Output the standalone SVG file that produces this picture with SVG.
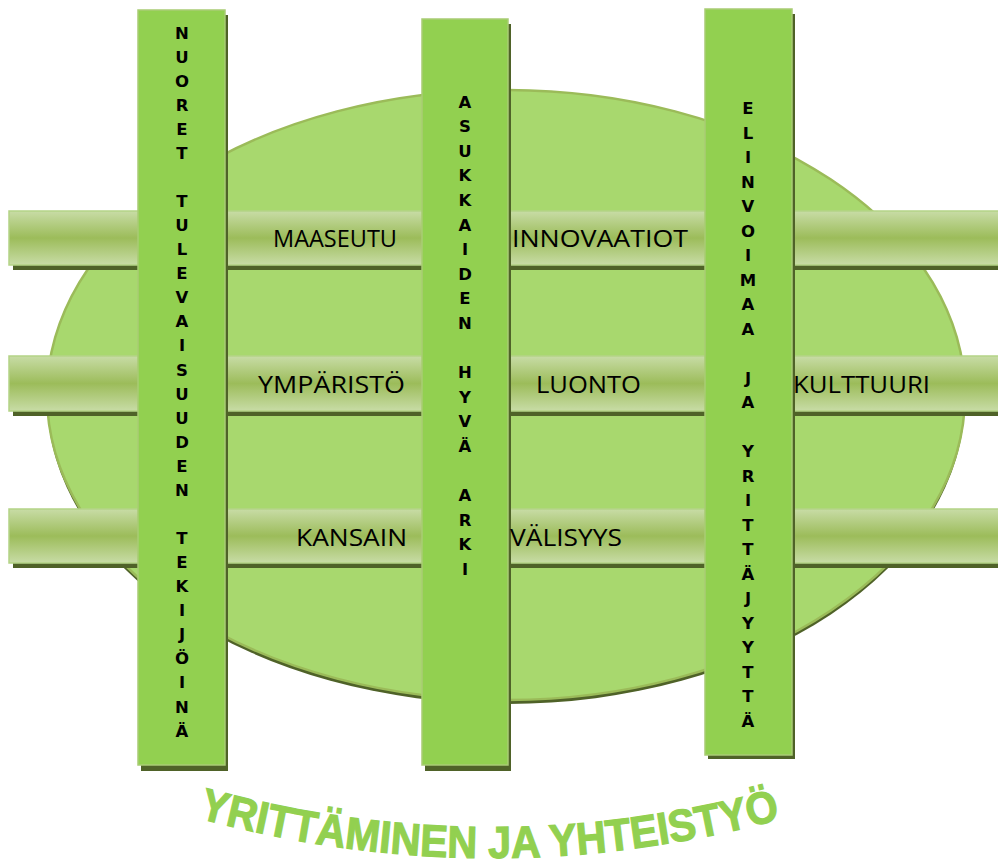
<svg xmlns="http://www.w3.org/2000/svg" width="998" height="867" viewBox="0 0 998 867">
<style>
.bar{fill:url(#barGrad);stroke:#b4d386;stroke-width:1.5}
.shadow{fill:#4f6228}
.col{fill:#92d050;stroke:#a9cc74;stroke-width:1.5}
.lbl{font-family:"Open Sans","Liberation Sans",sans-serif;font-size:24px;fill:#000}
.vert{font-family:"DejaVu Sans","Liberation Sans",sans-serif;font-weight:bold;font-size:16.5px;fill:#000;text-anchor:middle}
.arc{font-family:"Liberation Sans",Arial,sans-serif;font-weight:bold;font-size:45px;fill:#92d050;stroke:#92d050;stroke-width:1.2}
</style>
<defs>
<linearGradient id="barGrad" x1="0" y1="0" x2="0" y2="1">
<stop offset="0" stop-color="#c8dca6"/>
<stop offset="0.5" stop-color="#9cbc5a"/>
<stop offset="1" stop-color="#c8dca6"/>
</linearGradient>
<path id="arcPath" d="M198,818 Q491,898 785,818"/>
</defs>
<g id="background">
<ellipse cx="506" cy="399" rx="459" ry="305" fill="#4f6228"/>
<ellipse cx="506" cy="395" rx="459" ry="305" fill="#a8d86e" stroke="#9bbb59" stroke-width="2.5"/>
</g>
<g id="bars">
<g id="bar1">
<rect class="shadow" x="13" y="263" width="985" height="7"/>
<rect class="bar" x="9" y="211" width="995" height="54"/>
</g>
<g id="bar2">
<rect class="shadow" x="13" y="409" width="985" height="7"/>
<rect class="bar" x="9" y="356" width="995" height="55"/>
</g>
<g id="bar3">
<rect class="shadow" x="13" y="561" width="985" height="7"/>
<rect class="bar" x="9" y="509" width="995" height="54"/>
</g>
</g>
<g id="columns">
<g id="col1">
<rect class="shadow" x="141" y="15" width="87" height="756"/>
<rect class="col" x="138" y="10" width="87" height="755"/>
</g>
<g id="col2">
<rect class="shadow" x="425" y="24" width="86" height="747"/>
<rect class="col" x="422" y="19" width="86" height="746"/>
</g>
<g id="col3">
<rect class="shadow" x="708" y="14" width="87" height="745"/>
<rect class="col" x="705" y="9" width="87" height="746"/>
</g>
</g>
<g id="bar-labels">
<text class="lbl" x="273" y="247" textLength="124" lengthAdjust="spacingAndGlyphs">MAASEUTU</text>
<text class="lbl" x="512" y="247" textLength="176" lengthAdjust="spacingAndGlyphs">INNOVAATIOT</text>
<text class="lbl" x="258" y="393" textLength="147" lengthAdjust="spacingAndGlyphs">YMPÄRISTÖ</text>
<text class="lbl" x="536" y="393" textLength="105" lengthAdjust="spacingAndGlyphs">LUONTO</text>
<text class="lbl" x="793" y="393" textLength="137" lengthAdjust="spacingAndGlyphs">KULTTUURI</text>
<text class="lbl" x="296" y="546" textLength="111" lengthAdjust="spacingAndGlyphs">KANSAIN</text>
<text class="lbl" x="510" y="546" textLength="112" lengthAdjust="spacingAndGlyphs">VÄLISYYS</text>
</g>
<g id="col1-text">
<text class="vert" y="14.5"><tspan x="182" dy="24.07">N</tspan><tspan x="182" dy="24.07">U</tspan><tspan x="182" dy="24.07">O</tspan><tspan x="182" dy="24.07">R</tspan><tspan x="182" dy="24.07">E</tspan><tspan x="182" dy="24.07">T</tspan><tspan x="182" dy="48.14">T</tspan><tspan x="182" dy="24.07">U</tspan><tspan x="182" dy="24.07">L</tspan><tspan x="182" dy="24.07">E</tspan><tspan x="182" dy="24.07">V</tspan><tspan x="182" dy="24.07">A</tspan><tspan x="182" dy="24.07">I</tspan><tspan x="182" dy="24.07">S</tspan><tspan x="182" dy="24.07">U</tspan><tspan x="182" dy="24.07">U</tspan><tspan x="182" dy="24.07">D</tspan><tspan x="182" dy="24.07">E</tspan><tspan x="182" dy="24.07">N</tspan><tspan x="182" dy="48.14">T</tspan><tspan x="182" dy="24.07">E</tspan><tspan x="182" dy="24.07">K</tspan><tspan x="182" dy="24.07">I</tspan><tspan x="182" dy="24.07">J</tspan><tspan x="182" dy="24.07">Ö</tspan><tspan x="182" dy="24.07">I</tspan><tspan x="182" dy="24.07">N</tspan><tspan x="182" dy="24.07">Ä</tspan></text>
</g>
<g id="col2-text">
<text class="vert" y="82.9"><tspan x="465" dy="24.6">A</tspan><tspan x="465" dy="24.6">S</tspan><tspan x="465" dy="24.6">U</tspan><tspan x="465" dy="24.6">K</tspan><tspan x="465" dy="24.6">K</tspan><tspan x="465" dy="24.6">A</tspan><tspan x="465" dy="24.6">I</tspan><tspan x="465" dy="24.6">D</tspan><tspan x="465" dy="24.6">E</tspan><tspan x="465" dy="24.6">N</tspan><tspan x="465" dy="49.2">H</tspan><tspan x="465" dy="24.6">Y</tspan><tspan x="465" dy="24.6">V</tspan><tspan x="465" dy="24.6">Ä</tspan><tspan x="465" dy="49.2">A</tspan><tspan x="465" dy="24.6">R</tspan><tspan x="465" dy="24.6">K</tspan><tspan x="465" dy="24.6">I</tspan></text>
</g>
<g id="col3-text">
<text class="vert" y="89.5"><tspan x="748" dy="24.5">E</tspan><tspan x="748" dy="24.5">L</tspan><tspan x="748" dy="24.5">I</tspan><tspan x="748" dy="24.5">N</tspan><tspan x="748" dy="24.5">V</tspan><tspan x="748" dy="24.5">O</tspan><tspan x="748" dy="24.5">I</tspan><tspan x="748" dy="24.5">M</tspan><tspan x="748" dy="24.5">A</tspan><tspan x="748" dy="24.5">A</tspan><tspan x="748" dy="49">J</tspan><tspan x="748" dy="24.5">A</tspan><tspan x="748" dy="49">Y</tspan><tspan x="748" dy="24.5">R</tspan><tspan x="748" dy="24.5">I</tspan><tspan x="748" dy="24.5">T</tspan><tspan x="748" dy="24.5">T</tspan><tspan x="748" dy="24.5">Ä</tspan><tspan x="748" dy="24.5">J</tspan><tspan x="748" dy="24.5">Y</tspan><tspan x="748" dy="24.5">Y</tspan><tspan x="748" dy="24.5">T</tspan><tspan x="748" dy="24.5">T</tspan><tspan x="748" dy="24.5">Ä</tspan></text>
</g>
<g id="title">
<text class="arc"><textPath href="#arcPath" textLength="590" lengthAdjust="spacingAndGlyphs">YRITTÄMINEN JA YHTEISTYÖ</textPath></text>
</g>
</svg>
